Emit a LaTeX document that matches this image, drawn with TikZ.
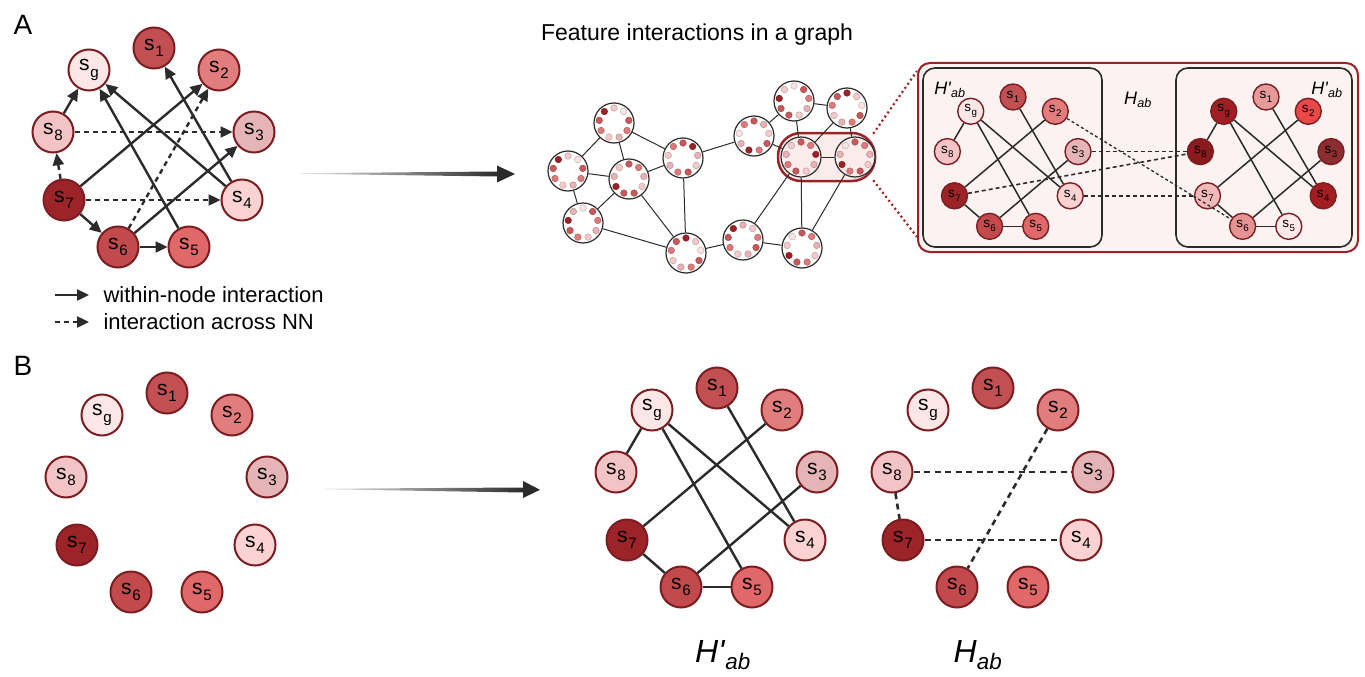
\documentclass[tikz,border=0pt]{standalone}
\usepackage{fontspec}
\usepackage{graphicx}
\setmainfont{Liberation Sans}
\usetikzlibrary{arrows.meta,calc}

\definecolor{ink}{HTML}{2B2B2B}
\definecolor{rim}{HTML}{7B1E22}
\definecolor{rimhl}{HTML}{9B2226}
\definecolor{hlfill}{HTML}{FBECEC}
% feature colours
\definecolor{c1}{HTML}{C25052}
\definecolor{c2}{HTML}{E27D7D}
\definecolor{c3}{HTML}{E4B4B6}
\definecolor{c4}{HTML}{FCD2D2}
\definecolor{c5}{HTML}{E06868}
\definecolor{c6}{HTML}{C24A4C}
\definecolor{c7}{HTML}{9C2327}
\definecolor{c8}{HTML}{F2C4C6}
\definecolor{cg}{HTML}{FDE6E6}
% second graph node in the inset
\definecolor{rc1}{HTML}{E89A9A}
\definecolor{rc2}{HTML}{EA4848}
\definecolor{rc3}{HTML}{8C2E31}
\definecolor{rc4}{HTML}{A31D21}
\definecolor{rc5}{HTML}{FDE9E9}
\definecolor{rc6}{HTML}{E89393}
\definecolor{rc7}{HTML}{F0B9BA}
\definecolor{rc8}{HTML}{8A1A1D}
\definecolor{rcg}{HTML}{A01E22}
% dots in the graph
\definecolor{dA}{HTML}{9B2226}
\definecolor{dB}{HTML}{C8585A}
\definecolor{dC}{HTML}{E07A7A}
\definecolor{dD}{HTML}{E8B2B4}
\definecolor{dE}{HTML}{F6CACA}
\definecolor{dF}{HTML}{FDE3E3}

\newcommand\slab[1]{s\kern0.03em\raisebox{-0.3em}{\scalebox{0.72}{#1}}}
\newcommand\hlab[1]{\textit{H#1}\textsubscript{\textit{ab}}}

\tikzset{
  snode/.style={circle,draw=rim,line width=2,minimum size=41,inner sep=0,
    text=black,font=\fontsize{21}{21}\selectfont},
  inode/.style={circle,draw=rim,line width=1.4,minimum size=26,inner sep=0,
    text=black,font=\fontsize{13.5}{13.5}\selectfont},
  arr/.style={draw=ink,line width=2.4,-{Triangle[length=12,width=11]}},
  darr/.style={arr,dash pattern=on 5pt off 4pt},
  sline/.style={draw=ink,line width=2.4},
  dline/.style={draw=ink,line width=2.6,dash pattern=on 6pt off 4.5pt},
  iline/.style={draw=ink,line width=1.5},
  idline/.style={draw=ink,line width=1.6,dash pattern=on 4pt off 3pt},
  fcirc/.style={circle,draw=ink,line width=1.2,fill=white,minimum size=40,inner sep=0},
  fcirchl/.style={fcirc,fill=hlfill},
  gline/.style={draw=ink,line width=1},
  zoomline/.style={draw=rimhl,line width=2.2,dash pattern=on 2pt off 3pt},
  box/.style={draw=ink,line width=1.6,rounded corners=12,inner sep=0},
}

% ring of nine features: prefix, position of s1, scale, node style, colour prefix
\newcommand\sring[5]{%
  \begin{scope}[shift={#2},scale=#3]
    \foreach \k/\dx/\dy in {1/0/0,g/-65/22,2/65/22,8/-101/84,3/100/84,7/-90/152,4/88/152,6/-36/199,5/35/199}
      \node[#4,fill=#5\k] (#1\k) at (\dx,\dy) {\slab{\k}};
  \end{scope}}

% graph node with nine feature dots
\newcommand\fnode[4][fcirc]{%
  \node[#1] (#2) at (#3) {};
  \foreach \c [count=\i from 0] in {#4}
    \filldraw[fill=d\c,draw=d\c!75!black,line width=0.4] ($(#2)+(-90+40*\i:15)$) circle[radius=3.3];
}

\begin{document}
\begin{tikzpicture}[x=1pt,y=-1pt]
  \useasboundingbox (0,0) rectangle (1365,677);

  % panel labels
  \node[font=\fontsize{28}{28}\selectfont] (lblA) at (23,25) {A};
  \node[font=\fontsize{28}{28}\selectfont] (lblB) at (23,366) {B};

  % ---- A: interactions
  \sring{a}{(154,48)}{1}{snode}{c}
  \draw[arr] (a8) -- (ag);
  \draw[arr] (a7) -- (a2);
  \draw[arr] (a4) -- (ag);
  \draw[arr] (a5) -- (ag);
  \draw[arr] (a4) -- (a1);
  \draw[arr] (a6) -- (a3);
  \draw[arr] (a7) -- (a6);
  \draw[arr] (a6) -- (a5);
  \draw[darr] (a7) -- (a8);
  \draw[darr] (a8) -- (a3);
  \draw[darr] (a6) -- (a2);
  \draw[darr] (a7) -- (a4);

  % legend
  \coordinate (lg1) at (55,295);
  \coordinate (lg2) at (89,295);
  \coordinate (lg3) at (55,322);
  \coordinate (lg4) at (89,322);
  \draw[arr] (lg1) -- (lg2);
  \draw[darr] (lg3) -- (lg4);
  \node[anchor=west,font=\fontsize{22}{22}\selectfont] (lgt1) at (100,295) {within-node interaction};
  \node[anchor=west,font=\fontsize{22}{22}\selectfont] (lgt2) at (100,322) {interaction across NN};

  % tapered arrows
  \shade[left color=ink!10,right color=ink] (300,173.2) -- (498,171.5) -- (498,176.5) -- (300,173.8) -- cycle;
  \fill[ink] (497,165.5) -- (515,174) -- (497,182.5) -- cycle;
  \shade[left color=ink!10,right color=ink] (325,488.7) -- (524,487.5) -- (524,492.5) -- (325,489.3) -- cycle;
  \fill[ink] (523,481) -- (540,489.8) -- (523,498) -- cycle;

  % ---- graph
  \node[font=\fontsize{23}{23}\selectfont] (title) at (697,35) {Feature interactions in a graph};
  \node[draw=rimhl,line width=2.5,fill=hlfill,rounded corners=23,minimum width=97,minimum height=48] (hl) at (826.5,157) {};
  \fnode{g1}{614,123}{E,F,B,C,D,E,C,B,A}
  \fnode{g2}{568,171}{E,F,B,C,D,E,C,B,A}
  \fnode{g3}{629,179}{B,C,D,E,B,B,A,D,E}
  \fnode{g4}{683,158}{B,A,D,E,B,C,D,E,C}
  \fnode{g5}{583,223}{F,B,C,D,E,C,B,A,D}
  \fnode{g6}{686,253}{A,E,F,B,C,D,E,C,B}
  \fnode{g7}{743,240}{D,E,C,B,D,E,C,B,A}
  \fnode{g8}{754,136}{B,D,E,B,C,A,D,F,C}
  \fnode{g9}{794,101}{F,B,C,D,E,B,B,A,E}
  \fnode{g10}{847,108}{A,E,F,B,C,D,E,C,B}
  \fnode[fcirchl]{g11}{801,157}{B,C,A,D,E,B,C,D,E}
  \fnode[fcirchl]{g12}{855,157}{B,C,D,E,B,C,A,D,F}
  \fnode{g13}{802,248}{B,C,D,E,C,B,A,E,F}
  \foreach \u/\v in {g1/g2,g1/g3,g1/g4,g2/g3,g2/g5,g3/g4,g3/g5,g3/g6,g4/g6,g5/g6,
      g4/g8,g6/g7,g7/g13,g7/g11,g8/g9,g8/g11,g9/g10,g9/g11,g10/g11,g10/g12,
      g11/g12,g11/g13,g12/g13}
    \draw[gline] (\u) -- (\v);

  % ---- inset
  \node[draw=rimhl,line width=2,fill=hlfill!70,rounded corners=12,minimum width=440,minimum height=189] (inset) at (1138,157.5) {};
  \draw[zoomline] ([xshift=-3,yshift=-2]hl.north east) -- ([yshift=-9]inset.north west);
  \draw[zoomline] ([xshift=-3,yshift=2]hl.south east) -- ([yshift=16]inset.south west);
  \node[box,minimum width=179,minimum height=179] (lbox) at (1012.5,157.5) {};
  \node[box,minimum width=176,minimum height=179] (rbox) at (1264,157.5) {};
  \sring{l}{(1013,97)}{0.65}{inode}{c}
  \sring{r}{(1266,97)}{0.65}{inode}{rc}
  \foreach \p in {l,r}
    \foreach \u/\v in {g/8,g/5,g/4,1/4,2/7,3/6,7/6,6/5}
      \draw[iline] (\p\u) -- (\p\v);
  \draw[idline] (l3) -- (r8);
  \draw[idline] (l7) -- (r8);
  \draw[idline] (l4) -- (r7);
  \draw[idline,dash pattern=on 3pt off 2.5pt,line width=1.3] (l2) -- (r6);
  \node[font=\fontsize{18}{18}\selectfont] (iH1) at (950,90) {\hlab{\textquotesingle}};
  \node[font=\fontsize{18}{18}\selectfont] (iH2) at (1138,100) {\hlab{}};
  \node[font=\fontsize{18}{18}\selectfont] (iH3) at (1327,90) {\hlab{\textquotesingle}};

  % ---- B: split into H' and H
  \sring{b}{(167,393)}{1}{snode}{c}
  \sring{m}{(717,388)}{1}{snode}{c}
  \sring{h}{(993,388)}{1}{snode}{c}
  \foreach \u/\v in {g/8,g/5,g/4,1/4,2/7,3/6,7/6,6/5}
    \draw[sline] (m\u) -- (m\v);
  \foreach \u/\v in {8/7,8/3,7/4,2/6}
    \draw[dline] (h\u) -- (h\v);
  \node[font=\fontsize{32}{32}\selectfont] (HB1) at (723,655) {\hlab{\textquotesingle}};
  \node[font=\fontsize{32}{32}\selectfont] (HB2) at (978,655) {\hlab{}};
\end{tikzpicture}
\end{document}
